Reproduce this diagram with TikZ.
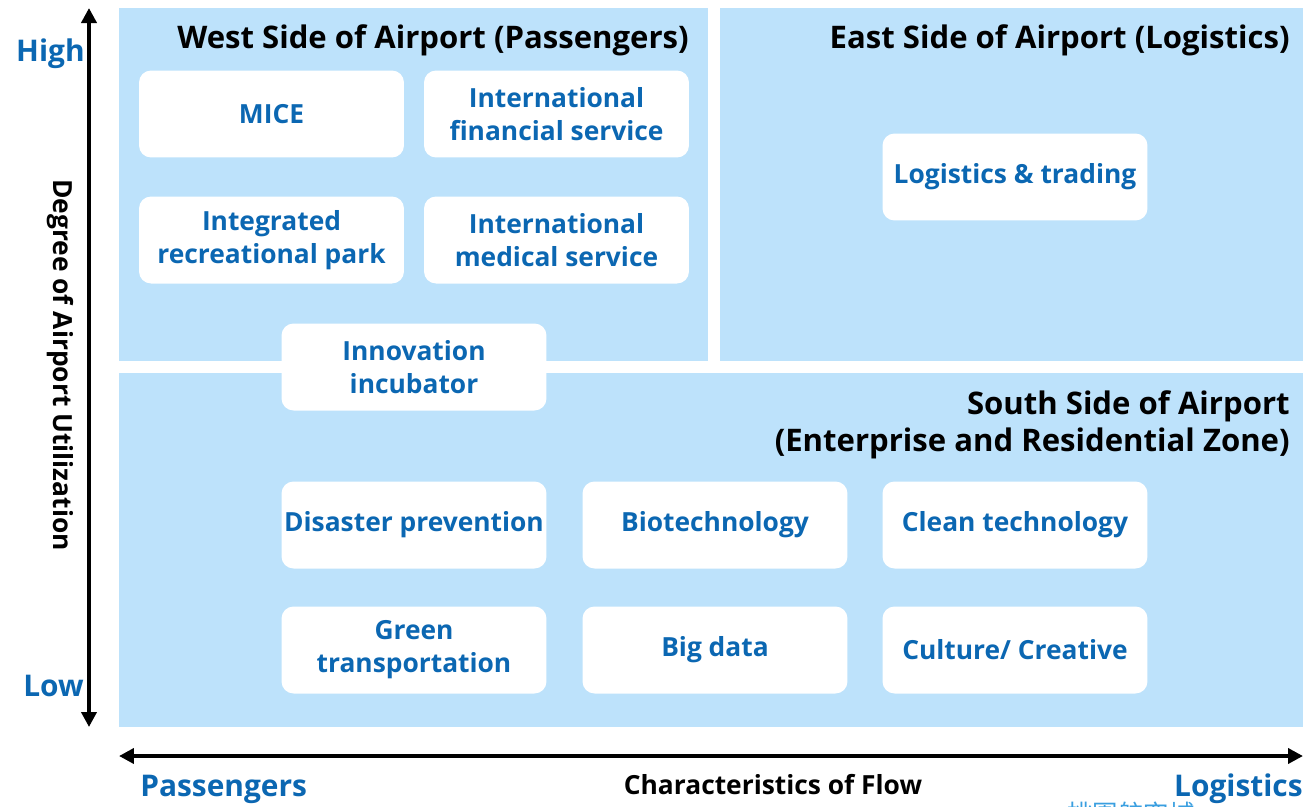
\documentclass[tikz,border=0pt]{standalone}
\usepackage{fontspec}
\setmainfont{Open Sans}
\newfontfamily\cjk{Noto Sans CJK TC}
\usetikzlibrary{arrows.meta}

\definecolor{zonefill}{HTML}{BDE2FB}
\definecolor{itemblue}{HTML}{0B67B2}
\definecolor{markblue}{HTML}{3A9FE0}

\begin{document}
\begin{tikzpicture}[x=0.02cm, y=-0.02cm,
    item/.style={fill=white, rounded corners=0.24cm, minimum width=5.3cm, minimum height=1.74cm,
        inner sep=0pt, align=center, text=itemblue, font=\bfseries\fontsize{15}{18.7}\selectfont},
    zonetitle/.style={font=\bfseries\fontsize{17.7}{21.5}\selectfont, text=black, inner sep=0pt},
    endlabel/.style={font=\bfseries\fontsize{17}{20}\selectfont, text=itemblue, inner sep=0pt},
    axistext/.style={font=\bfseries\fontsize{15}{18}\selectfont, inner sep=0pt},
    axis/.style={line width=2.3pt, {Triangle[length=0.3cm, width=0.3cm]}-{Triangle[length=0.3cm, width=0.3cm]}}]

    \useasboundingbox (0,0) rectangle (1303,806);

    % Zones
    \fill[zonefill] (119,8) rectangle (708,361);
    \fill[zonefill] (720,8) rectangle (1303,361);
    \fill[zonefill] (119,373) rectangle (1303,727);

    % Zone titles
    \node[zonetitle, anchor=east] (westtitle) at (689,40) {West Side of Airport (Passengers)};
    \node[zonetitle, anchor=east] (easttitle) at (1290,40) {East Side of Airport (Logistics)};
    \node[zonetitle, anchor=north east, align=right] (southtitle) at (1290,390)
        {South Side of Airport\\(Enterprise and Residential Zone)};

    % West side
    \node[item] (mice) at (271.5,114) {MICE};
    \node[item] (finance) at (556.5,114) {International\\financial service};
    \node[item] (recreation) at (271.5,240) {Integrated\\recreational park};
    \node[item] (medical) at (556.5,240) {International\\medical service};
    \node[item] (incubator) at (414,367) {Innovation\\incubator};

    % East side
    \node[item] (logistics) at (1015,177) {Logistics \& trading};

    % South side
    \node[item] (disaster) at (414,525) {Disaster prevention};
    \node[item] (biotech) at (715,525) {Biotechnology};
    \node[item] (clean) at (1015,525) {Clean technology};
    \node[item] (green) at (414,650) {Green\\transportation};
    \node[item] (bigdata) at (715,650) {Big data};
    \node[item] (culture) at (1015,650) {Culture/ Creative};

    % Axes
    \coordinate (ytop) at (89,8);
    \coordinate (ybottom) at (89,727);
    \coordinate (xleft) at (119,756);
    \coordinate (xright) at (1303,756);
    \draw[axis] (ybottom) -- (ytop);
    \draw[axis] (xleft) -- (xright);

    \node[endlabel, anchor=east] (high) at (85,54) {High};
    \node[endlabel, anchor=east] (low) at (84,686) {Low};
    \node[endlabel, anchor=west] (passengers) at (140,789) {Passengers};
    \node[endlabel, anchor=east] (logisticsend) at (1303,789) {Logistics};
    \node[axistext] (flow) at (773,785) {Characteristics of Flow};
    \node[axistext, rotate=-90] (utilization) at (60,365) {Degree of Airport Utilization};

    % Watermark, cut by the page edge
    \node[font=\cjk\fontsize{14.5}{17}\selectfont, text=markblue, inner sep=0pt] (mark) at (1131,814) {桃園航空城};

\end{tikzpicture}
\end{document}
